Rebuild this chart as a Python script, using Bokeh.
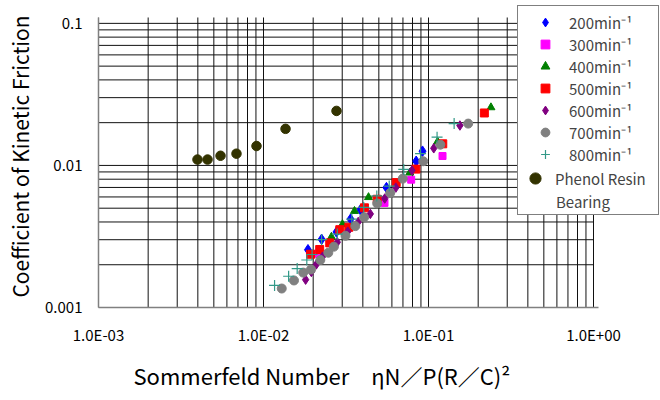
import numpy as np
from bokeh.plotting import figure
from bokeh.models import FixedTicker, Legend, LegendItem, Title
from bokeh.embed import file_html
from bokeh.resources import INLINE

FONT = "Noto Sans CJK JP"

# ---- data (Sommerfeld number, coefficient of kinetic friction) ----
x_200 = [0.0186, 0.0225, 0.0277, 0.0337, 0.0387, 0.0556, 0.0842, 0.0920]
y_200 = [0.00255, 0.00302, 0.00340, 0.00419, 0.00487, 0.00698, 0.0107, 0.0126]

x_300 = [0.0212, 0.0541, 0.0785, 0.1216]
y_300 = [0.00239, 0.00545, 0.00794, 0.01165]

x_400 = [0.0258, 0.0301, 0.0356, 0.0433, 0.0770, 0.1135, 0.239]
y_400 = [0.00314, 0.00385, 0.00477, 0.00597, 0.00889, 0.0147, 0.0256]

x_500 = [0.0193, 0.0219, 0.0252, 0.0290, 0.0329, 0.0409, 0.0489, 0.0637, 0.0838, 0.122, 0.218]
y_500 = [0.00237, 0.00256, 0.00285, 0.00353, 0.00367, 0.00503, 0.00578, 0.00757, 0.00942, 0.0142, 0.0234]

x_600 = [0.0180, 0.0195, 0.0209, 0.0228, 0.0280, 0.0324, 0.0375, 0.0444, 0.0543, 0.0634, 0.0794, 0.1076, 0.155]
y_600 = [0.00157, 0.00178, 0.00201, 0.00228, 0.00288, 0.00342, 0.00400, 0.00456, 0.00585, 0.00698, 0.00923, 0.0132, 0.0191]

x_700 = [0.0129, 0.0153, 0.0174, 0.0194, 0.0221, 0.0247, 0.0267, 0.0314, 0.0360, 0.0407, 0.0489, 0.0586, 0.0698, 0.0929, 0.118, 0.174]
y_700 = [0.00136, 0.00155, 0.00176, 0.00185, 0.00216, 0.00243, 0.00268, 0.00320, 0.00374, 0.00431, 0.00540, 0.00640, 0.00807, 0.0107, 0.0140, 0.0197]

x_800 = [0.01167, 0.0142, 0.0160, 0.0183, 0.0197, 0.0225, 0.0280, 0.0343, 0.0405, 0.0486, 0.0578, 0.0708, 0.0895, 0.1127, 0.143]
y_800 = [0.00143, 0.00166, 0.00188, 0.00216, 0.00236, 0.00300, 0.00329, 0.00419, 0.00506, 0.00610, 0.00716, 0.00938, 0.0121, 0.0158, 0.0197]

x_phenol = [0.00398, 0.00458, 0.00549, 0.00686, 0.00907, 0.0136, 0.0277]
y_phenol = [0.0110, 0.0110, 0.0117, 0.0121, 0.0137, 0.0181, 0.0242]

# axis extents and ticks
x_lo, x_hi = 0.001, 1.0
y_lo, y_hi = 0.001, 0.11
x_major = [0.001, 0.01, 0.1, 1.0]
x_major_labels = ["1.0E-03", "1.0E-02", "1.0E-01", "1.0E+00"]
y_major = [0.001, 0.01, 0.1]
y_major_labels = ["0.001", "0.01", "0.1"]
x_minor = [k * 10.0 ** e for e in (-3, -2, -1) for k in range(2, 10)]
y_minor = [k * 10.0 ** e for e in (-3, -2) for k in range(2, 10)]

series_labels = ["200min⁻¹", "300min⁻¹", "400min⁻¹", "500min⁻¹",
                 "600min⁻¹", "700min⁻¹", "800min⁻¹"]
phenol_labels = ["Phenol Resin", "Bearing"]
x_title = "Sommerfeld Number　ηN／P(R／C)²"
y_title = "Coefficient of Kinetic Friction"

# ---- figure: frame extends right/up so the legend box is not clipped ----
p = figure(width=660, height=400, x_axis_type="log", y_axis_type="log",
           x_range=(0.001, 2.547), y_range=(0.001, 0.1336),
           output_backend="svg", toolbar_location=None,
           min_border_left=98, min_border_right=0,
           min_border_top=5, min_border_bottom=91)
p.outline_line_color = None
p.background_fill_color = "white"
p.border_fill_color = "white"
p.xgrid.visible = False
p.ygrid.visible = False

p.xaxis.ticker = FixedTicker(ticks=x_major, minor_ticks=x_minor)
p.yaxis.ticker = FixedTicker(ticks=y_major, minor_ticks=y_minor)
p.xaxis.major_label_overrides = dict(zip(x_major, x_major_labels))
p.yaxis.major_label_overrides = dict(zip(y_major, y_major_labels))
p.xaxis.bounds = (x_lo, 1.07)
p.yaxis.bounds = (y_lo, y_hi)

for ax in (p.xaxis, p.yaxis):
    ax.major_tick_line_color = None
    ax.minor_tick_line_color = None
    ax.major_tick_out = 0
    ax.minor_tick_out = 0
    ax.major_tick_in = 0
    ax.minor_tick_in = 0
    ax.axis_line_color = "#808080"
    ax.axis_line_width = 1.5
    ax.major_label_text_font = FONT
    ax.major_label_text_font_size = "15px"
    ax.major_label_text_color = "black"
p.xaxis.major_label_standoff = 16
p.yaxis.major_label_standoff = 16

p.yaxis.axis_label = y_title
p.yaxis.axis_label_standoff = 7
p.yaxis.axis_label_text_font = FONT
p.yaxis.axis_label_text_font_size = "21px"
p.yaxis.axis_label_text_font_style = "normal"
p.yaxis.axis_label_text_color = "black"

# ---- grid lines at the tick positions, limited to the plot area ----
vx = [t for t in x_major + x_minor if x_lo <= t <= x_hi]
hy = [t for t in y_major + y_minor if y_lo <= t <= y_hi]
p.segment(x0=vx, y0=[y_lo] * len(vx), x1=vx, y1=[y_hi] * len(vx),
          line_color="#111111", line_width=1)
p.segment(x0=[x_lo] * len(hy), y0=hy, x1=[x_hi] * len(hy), y1=hy,
          line_color="#111111", line_width=1)

# ---- series ----
r200 = p.scatter(x_200, y_200, marker="diamond", size=10.5, fill_color="#0000FF", line_color="#0000FF")
r300 = p.scatter(x_300, y_300, marker="square", size=7, fill_color="#FF00FF", line_color="#FF00FF")
r400 = p.scatter(x_400, y_400, marker="triangle", size=8, fill_color="#008000", line_color="#008000")
r500 = p.scatter(x_500, y_500, marker="square", size=8, fill_color="#FF0000", line_color="#FF0000")
r600 = p.scatter(x_600, y_600, marker="diamond", size=9.5, fill_color="#800080", line_color="#800080")
r700 = p.scatter(x_700, y_700, marker="circle", size=9, fill_color="#808080", line_color="#808080")
r800 = p.scatter(x_800, y_800, marker="cross", size=11, line_color="#339988", line_width=1.2)
rph = p.scatter(x_phenol, y_phenol, marker="circle", size=9.5, fill_color="#333300", line_color="#333300")
blank = p.scatter(x=[], y=[], marker="circle", size=1, fill_alpha=0, line_alpha=0)

# legend box with the seven speed entries (+ two empty rows for the resin entry)
rate_items = [LegendItem(label=lab, renderers=[r]) for lab, r in
              zip(series_labels, [r200, r300, r400, r500, r600, r700, r800])]
rate_items += [LegendItem(label="\u00a0", renderers=[blank]),
               LegendItem(label="\u00a0\u00a0", renderers=[blank])]
leg_a = Legend(items=rate_items, location=(419, 92),
               padding=5, spacing=0, margin=0,
               glyph_width=44, glyph_height=22, label_height=22,
               label_width=84, label_standoff=2,
               label_text_font=FONT, label_text_font_size="15px",
               border_line_color="black", border_line_width=1,
               background_fill_color="white", background_fill_alpha=1)
p.add_layout(leg_a, "center")

leg_b = Legend(items=[LegendItem(label=phenol_labels[0], renderers=[rph])],
               location=(423, 115), padding=0, spacing=0, margin=0,
               glyph_width=28, glyph_height=28, label_height=28,
               label_standoff=6,
               label_text_font=FONT, label_text_font_size="15px",
               border_line_color=None, background_fill_alpha=0)
p.add_layout(leg_b, "center")

leg_c = Legend(items=[LegendItem(label=phenol_labels[1], renderers=[blank])],
               location=(436, 95), padding=0, spacing=0, margin=0,
               glyph_width=22, glyph_height=22, label_height=22,
               label_standoff=0,
               label_text_font=FONT, label_text_font_size="15px",
               border_line_color=None, background_fill_alpha=0)
p.add_layout(leg_c, "center")

# ---- x axis title ----
p.add_layout(Title(text=x_title, align="left", offset=35, standoff=19,
                   text_font=FONT, text_font_size="22px", text_font_style="normal",
                   text_color="black"), "below")

open("out.html", "w").write(file_html(p, INLINE))
